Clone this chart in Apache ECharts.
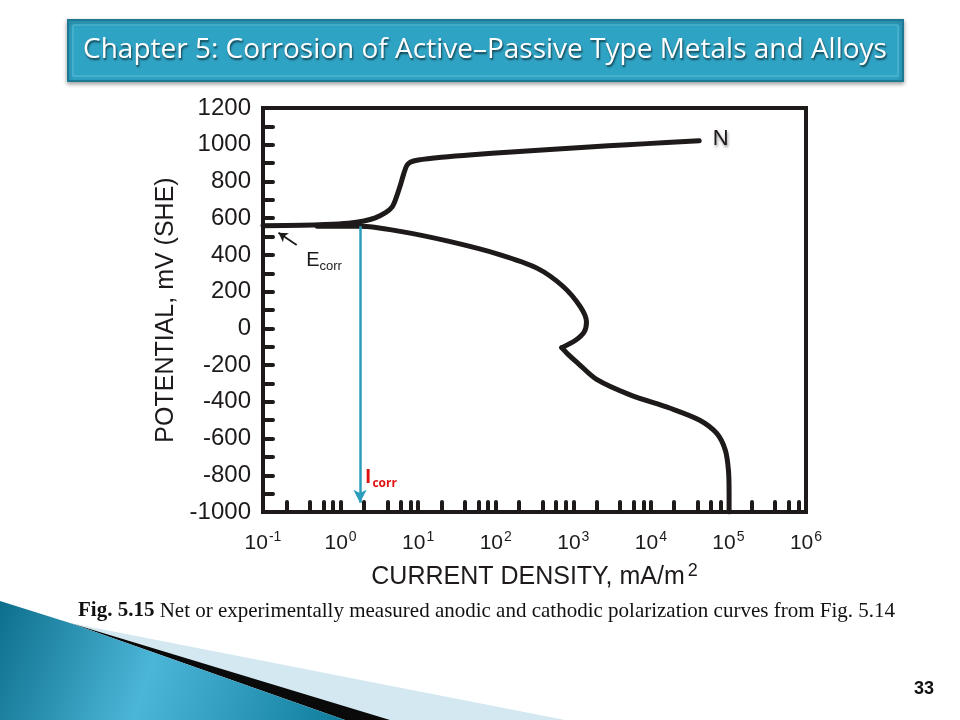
<!DOCTYPE html>
<html><head><meta charset="utf-8">
<script src="https://cdn.jsdelivr.net/npm/echarts@6/dist/echarts.min.js"></script>
<style>html,body{margin:0;padding:0;background:#fff;}#c{width:960px;height:720px;}</style>
</head><body><div id="c"></div>
<script>
// ---- data (current density in mA/m^2, potential in mV SHE) ----
const anodicCurrent   = [0.1, 0.32, 0.63, 1.26, 2.0, 2.8, 3.8, 4.6, 5.2, 5.9, 6.5, 7.1, 7.9, 10, 20, 50, 160, 500, 1600, 5000, 16000, 42000];
const anodicPotential = [559, 561, 565, 573, 585, 602, 630, 660, 710, 780, 840, 885, 905, 917, 932, 946, 960, 974, 988, 1000, 1012, 1022];
const cathodicCurrent   = [0.5, 1.78, 5.9, 26, 112, 340, 740, 1230, 1480, 1380, 1070, 710, 850, 1150, 2000, 5400, 17800, 42700, 70800, 91000, 100000, 102000, 102000];
const cathodicPotential = [556, 556, 528, 472, 402, 328, 228, 118, 35, -20, -65, -105, -140, -190, -278, -362, -435, -500, -572, -662, -771, -900, -1000];
const cathodicCornerIndex = 11;
const xDecades = [-1, 0, 1, 2, 3, 4, 5, 6];
const xTickMultipliers = [1, 2, 4, 6, 8];
const yTicks = [-1000, -800, -600, -400, -200, 0, 200, 400, 600, 800, 1000, 1200];
const iCorr = 1.78, eCorr = 556;
const titleText = 'Chapter 5: Corrosion of Active\u2013Passive Type Metals and Alloys';
const captionBold = 'Fig. 5.15';
const captionText = ' Net or experimentally measured anodic and cathodic polarization curves from Fig. 5.14';
const pageNumber = '33';

const toXY = (cur, pot) => cur.map((c, i) => [Math.log10(c), pot[i]]);
const anodic = toXY(anodicCurrent, anodicPotential);
const cathodic = toXY(cathodicCurrent, cathodicPotential);
const cathUpper = cathodic.slice(0, cathodicCornerIndex + 1);
const cathLower = cathodic.slice(cathodicCornerIndex);
const xTickValues = [];
xDecades.forEach(d => xTickMultipliers.forEach(m => {
  const v = d + Math.log10(m);
  if (v <= xDecades[xDecades.length - 1] + 1e-9) xTickValues.push(v);
}));

const ink = '#1e1a1a';
const font = 'Liberation Sans';
const lineStyle = { color: ink, width: 5, cap: 'round', join: 'round' };
const plainLabel = (fmt, rich, extra) => Object.assign({ show: true, position: 'right', distance: 0, formatter: fmt, rich: rich }, extra || {});

const chart = echarts.init(document.getElementById('c'), null, { renderer: 'canvas' });
chart.setOption({
  animation: false,
  backgroundColor: '#ffffff',
  grid: { left: 263, right: 154, top: 108, bottom: 208, show: true, borderColor: ink, borderWidth: 4, containLabel: false },
  xAxis: {
    type: 'value', min: xDecades[0], max: xDecades[xDecades.length - 1], interval: 1,
    splitLine: { show: false },
    axisLine: { onZero: false, lineStyle: { color: ink, width: 4 } },
    axisTick: { show: true, inside: true, length: 10, customValues: xTickValues, lineStyle: { color: ink, width: 4, cap: 'round' } },
    axisLabel: {
      margin: 18, color: ink, fontFamily: font,
      formatter: v => '{b|10}{s|' + v + '}',
      rich: { b: { fontSize: 21, fontFamily: font, color: ink }, s: { fontSize: 14, fontFamily: font, color: ink, padding: [0, 0, 12, 1] } }
    },
    name: 'CURRENT DENSITY, mA/m{s|2}', nameLocation: 'middle', nameGap: 50,
    nameTextStyle: { fontSize: 25, fontFamily: font, color: ink, rich: { s: { fontSize: 18, fontFamily: font, color: ink, padding: [0, 0, 12, 3] } } }
  },
  yAxis: {
    type: 'value', min: yTicks[0], max: yTicks[yTicks.length - 1], interval: 200,
    splitLine: { show: false },
    axisLine: { onZero: false, lineStyle: { color: ink, width: 4 } },
    axisTick: { show: true, inside: true, length: 10, lineStyle: { color: ink, width: 4, cap: 'round' } },
    minorTick: { show: true, splitNumber: 2, length: 10, lineStyle: { color: ink, width: 4, cap: 'round' } },
    axisLabel: { margin: 12, fontSize: 24, fontFamily: font, color: ink, formatter: v => String(v) },
    name: 'POTENTIAL, mV (SHE)', nameLocation: 'middle', nameRotate: 90, nameGap: 70,
    nameTextStyle: { fontSize: 25, fontFamily: font, color: ink }
  },
  series: [
    {
      name: 'anodic', type: 'line', data: anodic, smooth: 0.3, showSymbol: false, symbol: 'none',
      lineStyle: lineStyle, z: 3,
      markLine: {
        silent: true, animation: false,
        data: [
          [{ coord: [Math.log10(iCorr), eCorr], symbol: 'none' },
           { coord: [Math.log10(iCorr), -950], symbol: 'arrow', symbolSize: [10, 13] }],
          [{ coord: [-0.566, 454], symbol: 'none', lineStyle: { color: ink, width: 1.8, type: 'solid' } },
           { coord: [-0.80, 521], symbol: 'arrow', symbolSize: [8, 9], lineStyle: { color: ink, width: 1.8, type: 'solid' }, itemStyle: { color: ink } }]
        ],
        lineStyle: { color: '#2c9cbc', width: 2.5, type: 'solid' },
        itemStyle: { color: '#2c9cbc' },
        label: { show: false }
      },
      markPoint: {
        silent: true, symbol: 'circle', symbolSize: 1, itemStyle: { color: 'rgba(0,0,0,0)' },
        data: [
          { coord: [-0.45, 372], label: plainLabel('{e|E}{c|corr}',
              { e: { fontSize: 20, fontFamily: font, color: ink }, c: { fontSize: 13, fontFamily: font, color: ink, padding: [13, 0, 0, 0] } }) },
          { coord: [0.31, -815], label: plainLabel('{i|I}{c|corr}',
              { i: { fontSize: 19, fontWeight: 'bold', fontFamily: 'Open Sans', color: '#e01010' }, c: { fontSize: 12, fontWeight: 'bold', fontFamily: 'Open Sans', color: '#e01010', padding: [12, 0, 0, 1] } }) },
          { coord: [4.79, 1030], label: plainLabel('N', null,
              { fontSize: 22, fontFamily: font, color: ink, textShadowColor: 'rgba(0,0,0,0.45)', textShadowBlur: 3, textShadowOffsetX: 1, textShadowOffsetY: 2 }) }
        ]
      }
    },
    { name: 'cathodic-upper', type: 'line', data: cathUpper, smooth: 0.3, showSymbol: false, symbol: 'none', lineStyle: lineStyle, z: 3 },
    { name: 'cathodic-lower', type: 'line', data: cathLower, smooth: 0.3, showSymbol: false, symbol: 'none', lineStyle: lineStyle, z: 3 }
  ],
  graphic: [
    // bottom-left decoration
    { type: 'polygon', z: -10, shape: { points: [[70, 623], [565, 720], [385, 720]] }, style: { fill: '#d3e8f0' } },
    { type: 'polygon', z: -9, shape: { points: [[70, 623], [390, 720], [345, 720]] }, style: { fill: '#0a0a0a' } },
    { type: 'polygon', z: -8, shape: { points: [[0, 601], [70, 623], [345, 720], [0, 720]] },
      style: { fill: new echarts.graphic.LinearGradient(0, 0, 1, 1, [{ offset: 0, color: '#0d6f8c' }, { offset: 0.45, color: '#4cb6d8' }, { offset: 1, color: '#0f7c9c' }]) } },
    // title bar
    { type: 'rect', z: 5, shape: { x: 68, y: 20, width: 835, height: 61 }, style: { fill: '#2fa3c4', stroke: '#1d7893', lineWidth: 2, shadowColor: 'rgba(0,0,0,0.35)', shadowBlur: 4, shadowOffsetY: 2 } },
    { type: 'rect', z: 6, shape: { x: 73, y: 25, width: 825, height: 51 }, style: { fill: 'none', stroke: '#5cbcd6', lineWidth: 1 } },
    { type: 'text', z: 7, x: 485, y: 50, style: { text: titleText, fill: '#ffffff', fontSize: 28, fontFamily: 'Open Sans', align: 'center', verticalAlign: 'middle',
        textShadowColor: 'rgba(0,0,0,0.6)', textShadowBlur: 2, textShadowOffsetX: 1, textShadowOffsetY: 2 } },
    // caption
    { type: 'text', z: 7, x: 78, y: 611, style: { text: '{b|' + captionBold + '}' + captionText, fill: '#111', fontSize: 21, fontFamily: 'Liberation Serif', verticalAlign: 'middle',
        rich: { b: { fontSize: 21, fontWeight: 'bold', fontFamily: 'Liberation Serif', fill: '#111' } } } },
    // page number
    { type: 'text', z: 7, x: 934, y: 689, style: { text: pageNumber, fill: '#111', fontSize: 18, fontWeight: 'bold', fontFamily: font, align: 'right', verticalAlign: 'middle' } }
  ]
});
</script>
</body></html>
